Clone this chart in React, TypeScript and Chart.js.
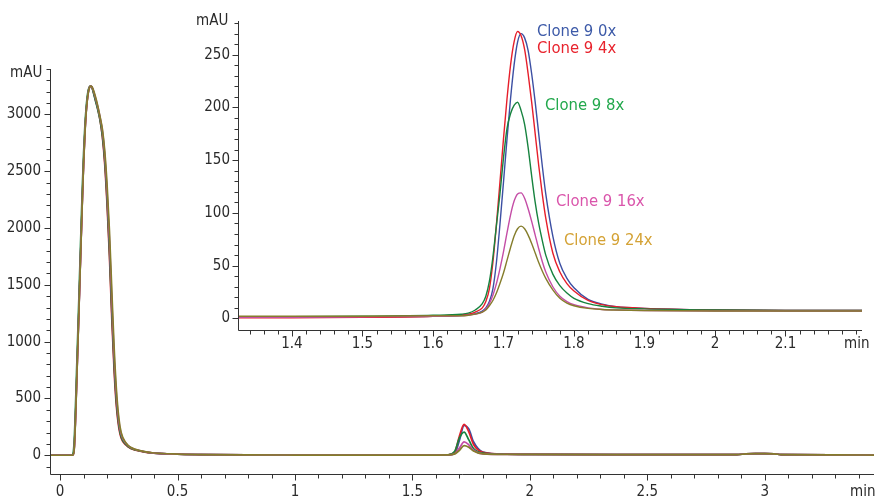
import React, { useEffect, useRef } from "react";
import { Chart, registerables } from "chart.js";

Chart.register(...registerables);

// ---------- DATA ----------
const SERIES_NAMES = ["Clone 9 0x", "Clone 9 4x", "Clone 9 8x", "Clone 9 16x", "Clone 9 24x"];

// Main chromatogram (time in min, absorbance in mAU)
const MAIN_TIME = [
  -0.043, 0, 0.05, 0.055, 0.06, 0.065, 0.07, 0.075, 0.08, 0.085,
  0.09, 0.095, 0.1, 0.105, 0.11, 0.115, 0.12, 0.125, 0.13, 0.135,
  0.14, 0.15, 0.16, 0.17, 0.18, 0.19, 0.2, 0.21, 0.22, 0.23,
  0.24, 0.25, 0.26, 0.28, 0.3, 0.35, 0.4, 0.5, 0.6, 0.8,
  1, 1.2, 1.4, 1.6, 1.65, 1.68, 1.7, 1.72, 1.74, 1.76,
  1.8, 1.9, 2, 2.5, 2.88, 2.92, 2.96, 3, 3.04, 3.07,
  3.3, 3.465,
];
const MAIN_0X = [
  0, 0, 0, 5, 55, 290, 610, 940, 1270, 1610,
  1940, 2270, 2570, 2810, 2995, 3115, 3195, 3238, 3250, 3242,
  3215, 3140, 3062, 2965, 2840, 2620, 2290, 1850, 1310, 830,
  480, 275, 170, 98, 65, 34, 19, 9.5, 6, 3,
  2, 1, 1, 2, 3.5, 16, 129, 262, 232, 119,
  29, 9.5, 8, 6, 5, 12, 14, 14, 13, 5,
  3, 2,
];
const MAIN_4X = [
  0, 0, 0, 5, 60, 300, 620, 950, 1280, 1620,
  1950, 2280, 2580, 2820, 3000, 3120, 3200, 3240, 3250, 3240,
  3210, 3130, 3050, 2950, 2800, 2560, 2200, 1750, 1200, 740,
  420, 240, 150, 90, 60, 32, 18, 9, 6, 3,
  2, 1, 1, 2, 4, 28, 170, 271, 205, 95,
  26, 9.5, 8, 6, 5, 12, 14, 14, 13, 5,
  3, 2,
];
const MAIN_8X = [
  0, 0, 0, 15, 130, 400, 730, 1060, 1390, 1730,
  2060, 2380, 2660, 2880, 3040, 3150, 3215, 3245, 3250, 3240,
  3205, 3125, 3045, 2950, 2810, 2590, 2240, 1800, 1260, 790,
  455, 260, 160, 94, 62, 33, 18, 9, 6, 3,
  2, 1, 1, 2, 4, 35, 152, 204, 135, 60,
  19, 9, 8, 6, 5, 12, 14, 14, 13, 5,
  3, 2,
];
const MAIN_16X = [
  0, 0, 0, 5, 55, 290, 610, 940, 1270, 1610,
  1940, 2270, 2570, 2810, 2995, 3115, 3195, 3238, 3250, 3244,
  3220, 3150, 3070, 2975, 2855, 2650, 2320, 1900, 1370, 880,
  520, 300, 185, 105, 68, 35, 19, 9.5, 6, 3,
  2, 1, 1, 2, 3, 14, 63, 118, 92, 44,
  13, 8, 7, 6, 5, 12, 14, 14, 13, 5,
  3, 2,
];
const MAIN_24X = [
  0, 0, 0, 5, 50, 280, 600, 930, 1260, 1600,
  1930, 2260, 2560, 2800, 2990, 3110, 3190, 3235, 3250, 3246,
  3225, 3160, 3080, 2980, 2870, 2680, 2380, 1980, 1460, 950,
  570, 330, 200, 110, 70, 36, 20, 10, 6, 3,
  2, 1, 1, 2, 3, 12, 43, 85, 71, 38,
  12, 8, 7, 6, 5, 12, 14, 14, 13, 5,
  3, 2,
];

// Inset (zoom on the 1.72 min peak)
const INSET_TIME = [
  1.3235, 1.4, 1.5, 1.6, 1.64, 1.65, 1.66, 1.67, 1.675, 1.68,
  1.685, 1.69, 1.695, 1.7, 1.705, 1.71, 1.715, 1.72, 1.725, 1.73,
  1.735, 1.74, 1.745, 1.75, 1.755, 1.76, 1.77, 1.78, 1.79, 1.8,
  1.82, 1.84, 1.86, 1.9, 2.0, 2.1, 2.2085,
];
const INSET_0X = [
  1, 1, 1.5, 2, 3, 3.5, 4.5, 7, 10, 16,
  28, 53, 89, 129, 170, 208, 240, 262, 270, 266,
  254, 232, 205, 175, 145, 118, 78, 52, 38, 29,
  18, 13.5, 11, 9.5, 8, 7.5, 7.5,
];
const INSET_4X = [
  0.5, 0.5, 1, 2, 3.5, 4, 6, 10, 16, 28,
  53, 89, 129, 170, 208, 240, 262, 272, 268, 255,
  232, 205, 175, 145, 118, 95, 62, 44, 33, 26,
  17, 13, 11, 9.5, 8, 7.5, 7.5,
];
const INSET_8X = [
  1.5, 1.5, 2, 3, 4, 5, 8, 14, 21, 35,
  58, 88, 118, 152, 180, 194, 202, 205, 197, 184,
  162, 135, 110, 90, 74, 60, 42, 31, 24, 19,
  14, 11.5, 10, 9, 8, 7.5, 7.5,
];
const INSET_16X = [
  1, 1, 1.5, 2, 2.5, 3, 4, 6, 9, 14,
  22, 33, 47, 63, 81, 98, 111, 118, 119, 114,
  104, 92, 79, 66, 54, 44, 30, 21, 16, 13,
  10, 8.5, 8, 7.5, 7, 7, 7,
];
const INSET_24X = [
  2, 2, 2, 2.5, 2.5, 3, 4, 6, 8, 12,
  17, 24, 33, 43, 55, 67, 78, 85, 87.5, 85,
  79, 71, 62, 53, 45, 38, 27, 19, 14.5, 12,
  9.5, 8.5, 8, 7.5, 7, 7, 7,
];

// Tick labels
const MAIN_X_TICKS = [0, 0.5, 1, 1.5, 2, 2.5, 3];
const MAIN_X_LABELS = ["0", "0.5", "1", "1.5", "2", "2.5", "3"];
const MAIN_Y_TICKS = [0, 500, 1000, 1500, 2000, 2500, 3000];
const MAIN_Y_LABELS = ["0", "500", "1000", "1500", "2000", "2500", "3000"];
const INSET_X_TICKS = [1.4, 1.5, 1.6, 1.7, 1.8, 1.9, 2, 2.1];
const INSET_X_LABELS = ["1.4", "1.5", "1.6", "1.7", "1.8", "1.9", "2", "2.1"];
const INSET_Y_TICKS = [0, 50, 100, 150, 200, 250];
const INSET_Y_LABELS = ["0", "50", "100", "150", "200", "250"];

// ---------- STYLE ----------
const LINE_COLORS = ["#3c4fa3", "#e61e2a", "#17833f", "#c44da6", "#857d2c"];
const LABEL_COLORS = ["#3d5aa8", "#e8232d", "#22a84c", "#da55ab", "#d4a235"];
const LABEL_POS = [
  { x: 537, y: 32 },
  { x: 537, y: 49 },
  { x: 545, y: 106 },
  { x: 556, y: 202 },
  { x: 564, y: 241 },
];
const FONT_FAMILY = "'Liberation Sans Narrow', 'DejaVu Sans Condensed', 'Liberation Sans', sans-serif";
const AXIS_COLOR = "#333333";
const TEXT_COLOR = "#2a2a2a";

function seq(from: number, to: number, step: number) {
  const out: number[] = [];
  for (let i = from; i <= to; i++) out.push(+(i * step).toFixed(4));
  return out;
}

type AxisCfg = {
  xTicks: number[];
  xLabels: string[];
  xMinor: number[];
  yTicks: number[];
  yLabels: string[];
  yMinor: number[];
  majorLen: number;
  minorLen: number;
  font: string;
  xLabelY: number;
  yLabelRight: number;
  yUnit: { text: string; x: number; y: number };
  xUnit: { text: string; x: number; y: number };
  seriesLabels?: boolean;
};

function makeAxisPlugin(id: string, cfg: AxisCfg) {
  return {
    id,
    afterDraw(chart: any) {
      const { ctx, chartArea: a, scales } = chart;
      const xs = scales.x;
      const ys = scales.y;
      ctx.save();
      ctx.strokeStyle = AXIS_COLOR;
      ctx.lineWidth = 1;
      const ax = Math.round(a.left) + 0.5;
      const ay = Math.round(a.bottom) + 0.5;
      ctx.beginPath();
      ctx.moveTo(ax, a.top);
      ctx.lineTo(ax, ay);
      ctx.lineTo(a.right, ay);
      for (const v of cfg.yMinor) {
        const p = Math.round(ys.getPixelForValue(v)) + 0.5;
        ctx.moveTo(ax - cfg.minorLen, p);
        ctx.lineTo(ax, p);
      }
      for (const v of cfg.yTicks) {
        const p = Math.round(ys.getPixelForValue(v)) + 0.5;
        ctx.moveTo(ax - cfg.majorLen, p);
        ctx.lineTo(ax, p);
      }
      for (const v of cfg.xMinor) {
        const p = Math.round(xs.getPixelForValue(v)) + 0.5;
        ctx.moveTo(p, ay);
        ctx.lineTo(p, ay + cfg.minorLen);
      }
      for (const v of cfg.xTicks) {
        const p = Math.round(xs.getPixelForValue(v)) + 0.5;
        ctx.moveTo(p, ay);
        ctx.lineTo(p, ay + cfg.majorLen);
      }
      ctx.stroke();

      ctx.fillStyle = TEXT_COLOR;
      ctx.font = cfg.font;
      ctx.textBaseline = "middle";
      ctx.textAlign = "right";
      cfg.yTicks.forEach((v, i) => ctx.fillText(cfg.yLabels[i], cfg.yLabelRight, ys.getPixelForValue(v)));
      ctx.textAlign = "center";
      cfg.xTicks.forEach((v, i) => ctx.fillText(cfg.xLabels[i], xs.getPixelForValue(v), cfg.xLabelY));
      ctx.textAlign = "left";
      ctx.fillText(cfg.yUnit.text, cfg.yUnit.x, cfg.yUnit.y);
      ctx.fillText(cfg.xUnit.text, cfg.xUnit.x, cfg.xUnit.y);

      if (cfg.seriesLabels) {
        ctx.font = `16.5px ${FONT_FAMILY}`;
        SERIES_NAMES.forEach((name, i) => {
          ctx.fillStyle = LABEL_COLORS[i];
          ctx.fillText(name, LABEL_POS[i].x, LABEL_POS[i].y);
        });
      }
      ctx.restore();
    },
  };
}

function buildDatasets(time: number[], series: number[][], width: number) {
  return series.map((vals, i) => ({
    label: SERIES_NAMES[i],
    data: time.map((t, j) => ({ x: t, y: vals[j] })),
    borderColor: LINE_COLORS[i],
    backgroundColor: LINE_COLORS[i],
    borderWidth: width,
    pointRadius: 0,
    fill: false,
    cubicInterpolationMode: "monotone" as const,
    order: 5 - i,
  }));
}

function baseOptions(xMin: number, xMax: number, yMin: number, yMax: number, padding: any) {
  return {
    responsive: false,
    animation: false as const,
    events: [] as any[],
    layout: { padding },
    plugins: { legend: { display: false }, tooltip: { enabled: false } },
    scales: {
      x: { type: "linear" as const, min: xMin, max: xMax, display: false },
      y: { type: "linear" as const, min: yMin, max: yMax, display: false },
    },
  };
}

export default function App() {
  const mainRef = useRef<HTMLCanvasElement>(null);
  const insetRef = useRef<HTMLCanvasElement>(null);

  useEffect(() => {
    const tickFont = `15px ${FONT_FAMILY}`;
    const main = new Chart(mainRef.current!, {
      type: "line",
      data: {
        datasets: buildDatasets(MAIN_TIME, [MAIN_0X, MAIN_4X, MAIN_8X, MAIN_16X, MAIN_24X], 1.7),
      },
      options: baseOptions(-0.043, 3.465, -165, 3400, { left: 50, right: 1, top: 69, bottom: 27 }) as any,
      plugins: [
        makeAxisPlugin("mainAxes", {
          xTicks: MAIN_X_TICKS,
          xLabels: MAIN_X_LABELS,
          xMinor: seq(0, 34, 0.1),
          yTicks: MAIN_Y_TICKS,
          yLabels: MAIN_Y_LABELS,
          yMinor: seq(-1, 34, 100),
          majorLen: 6,
          minorLen: 4,
          font: tickFont,
          xLabelY: 492,
          yLabelRight: 41,
          yUnit: { text: "mAU", x: 10, y: 73 },
          xUnit: { text: "min", x: 850, y: 492 },
        }),
      ],
    });
    const inset = new Chart(insetRef.current!, {
      type: "line",
      data: {
        datasets: buildDatasets(INSET_TIME, [INSET_0X, INSET_4X, INSET_8X, INSET_16X, INSET_24X], 1.4),
      },
      options: baseOptions(1.3235, 2.2085, -11, 282, { left: 238, right: 13, top: 21, bottom: 171 }) as any,
      plugins: [
        makeAxisPlugin("insetAxes", {
          xTicks: INSET_X_TICKS,
          xLabels: INSET_X_LABELS,
          xMinor: seq(67, 110, 0.02),
          yTicks: INSET_Y_TICKS,
          yLabels: INSET_Y_LABELS,
          yMinor: seq(0, 28, 10),
          majorLen: 6,
          minorLen: 4,
          font: tickFont,
          xLabelY: 344,
          yLabelRight: 230,
          yUnit: { text: "mAU", x: 196, y: 21 },
          xUnit: { text: "min", x: 844, y: 344 },
          seriesLabels: true,
        }),
      ],
    });
    return () => {
      main.destroy();
      inset.destroy();
    };
  }, []);

  return (
    <div style={{ position: "fixed", left: 0, top: 0, width: 875, height: 501, background: "#ffffff" }}>
      <canvas ref={mainRef} width={875} height={501} style={{ position: "absolute", left: 0, top: 0 }} />
      <canvas ref={insetRef} width={875} height={501} style={{ position: "absolute", left: 0, top: 0 }} />
    </div>
  );
}
